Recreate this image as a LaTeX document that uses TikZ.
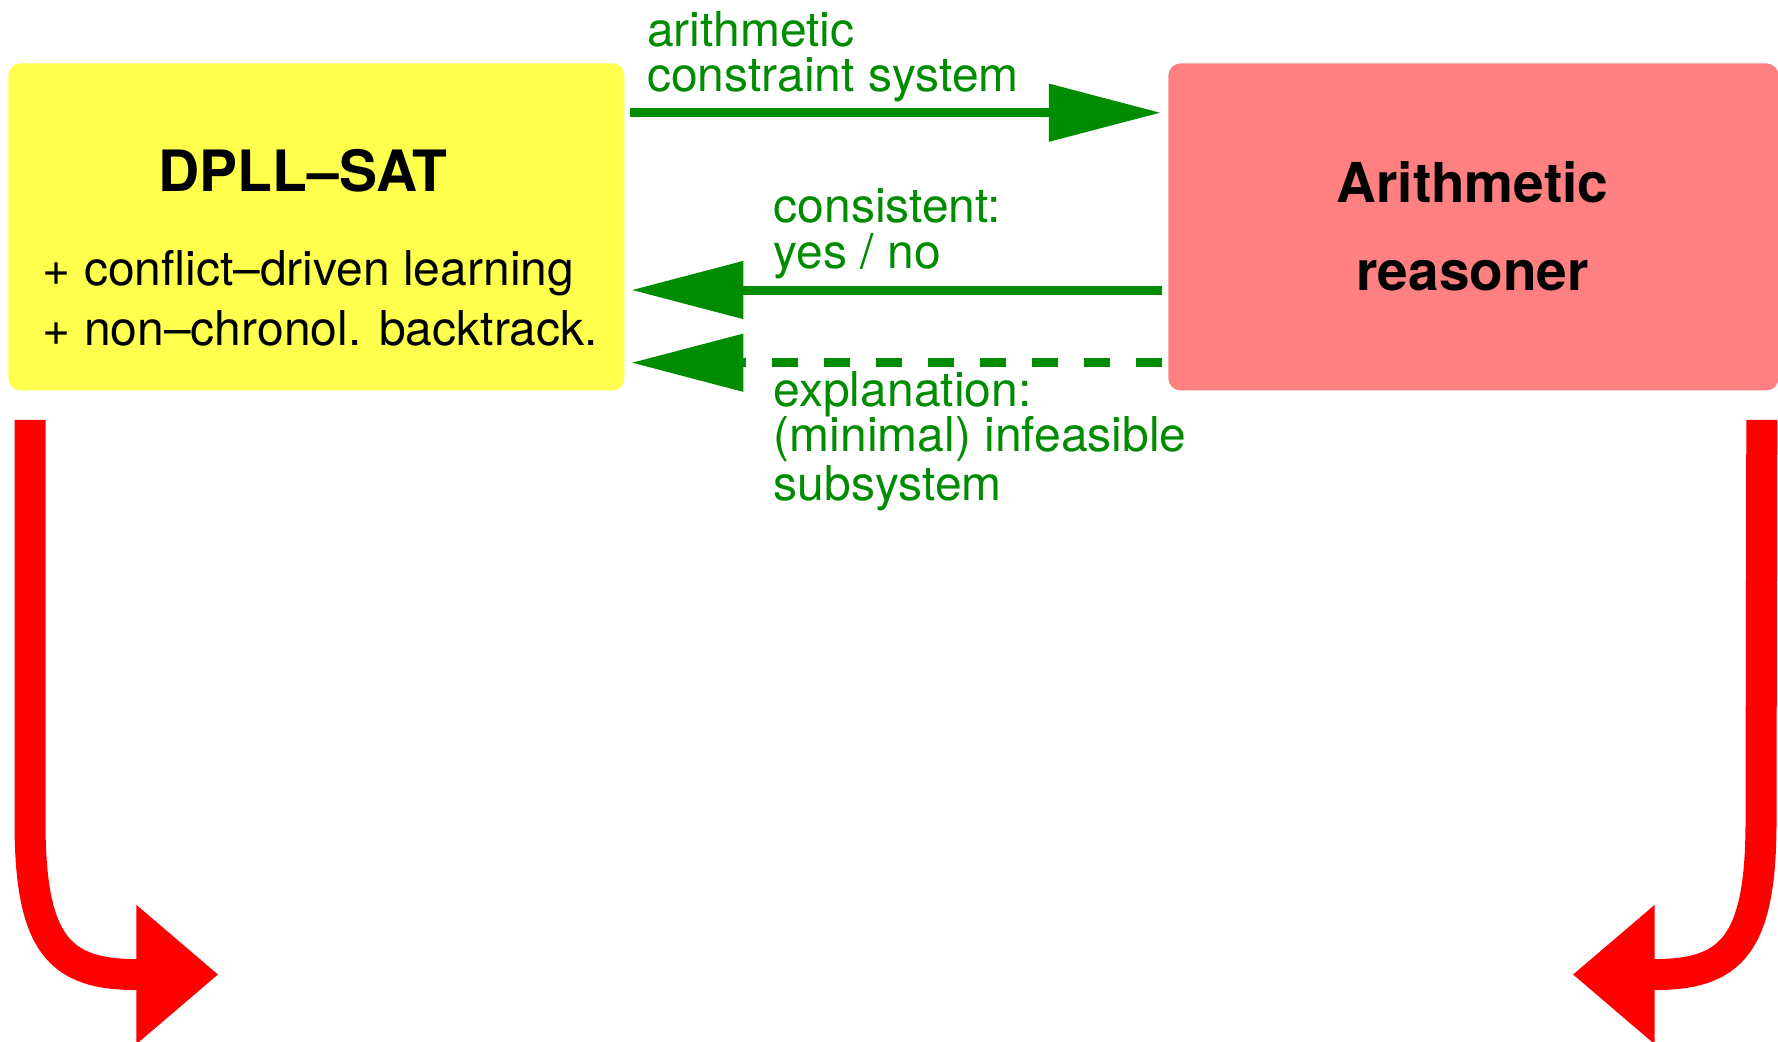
\documentclass[tikz,border=0pt]{standalone}
\usepackage{fontspec}
\setmainfont{TeX Gyre Heros}
\usetikzlibrary{arrows.meta}

\definecolor{satyellow}{RGB}{255,255,77}
\definecolor{arpink}{RGB}{255,128,128}
\definecolor{msggreen}{RGB}{0,140,0}

\begin{document}
\begin{tikzpicture}[x=0.5pt,y=-0.5pt,
  box/.style={anchor=north west, rounded corners=6pt, inner sep=0pt,
    minimum height=163.5pt},
  title/.style={font=\fontsize{27.5}{33}\selectfont\bfseries, inner sep=0pt, anchor=base},
  body/.style={font=\fontsize{24}{29}\selectfont, inner sep=0pt, anchor=base west},
  msg/.style={body, text=msggreen},
  garrow/.style={draw=msggreen, line width=4.5pt, -{Triangle[length=56pt,width=27.85pt]}},
  rarrow/.style={draw=red, line width=15.5pt, -{Triangle[length=41pt,width=67pt]}}]

% canvas
\useasboundingbox (0,0) rectangle (1778,1041);

% the two components
\node[box, fill=satyellow, minimum width=308pt] (sat) at (8,63) {};
\node[box, fill=arpink, minimum width=305pt] (rsn) at (1168,63) {};

\node[title, font=\fontsize{28.5}{33}\selectfont\bfseries] (satname) at (303,191.7) {DPLL\textendash SAT};
\node[body] (satl1) at (42.4,285) {+ conflict\textendash driven learning};
\node[body] (satl2) at (42.4,345) {+ non\textendash chronol. backtrack.};

\node[title] (rsn1) at (1472.5,202.7) {Arithmetic};
\node[title] (rsn2) at (1472.5,290) {reasoner};

% message labels
\node[msg] (m1a) at (646.7,46) {arithmetic};
\node[msg] (m1b) at (646.7,91.7) {constraint system};
\node[msg] (m2a) at (773.4,222.7) {consistent:};
\node[msg] (m2b) at (773.4,268.3) {yes / no};
\node[msg] (m3a) at (773.4,406.7) {explanation:};
\node[msg] (m3b) at (773.4,451.7) {(minimal) infeasible};
\node[msg] (m3c) at (773.4,500) {subsystem};

% message arrows
\coordinate (yfwd) at (0,112.7);
\coordinate (yans) at (0,290);
\coordinate (yexp) at (0,362.7);
\draw[garrow, shorten <=2.5pt, shorten >=3.6pt] (sat.east |- yfwd) -- (rsn.west |- yfwd);
\draw[garrow, shorten <=3.1pt, shorten >=3.3pt] (rsn.west |- yans) -- (sat.east |- yans);
\draw[garrow, dash pattern=on 13pt off 13pt, shorten <=3.1pt, shorten >=3.3pt]
  (rsn.west |- yexp) -- (sat.east |- yexp);

% outgoing red arrows
\coordinate (ltip) at (218.3,974.5);
\coordinate (rtip) at (1572.7,974.5);
\draw[rarrow] ([xshift=11pt,yshift=-14.5pt]sat.south west) -- (30,822)
  .. controls (30,945) and (60,974.5) .. (136,974.5) -- (ltip);
\draw[rarrow] ([xshift=-8.5pt,yshift=-14.5pt]rsn.south east) -- (1761,822)
  .. controls (1761,945) and (1731,974.5) .. (1655,974.5) -- (rtip);
\end{tikzpicture}
\end{document}
